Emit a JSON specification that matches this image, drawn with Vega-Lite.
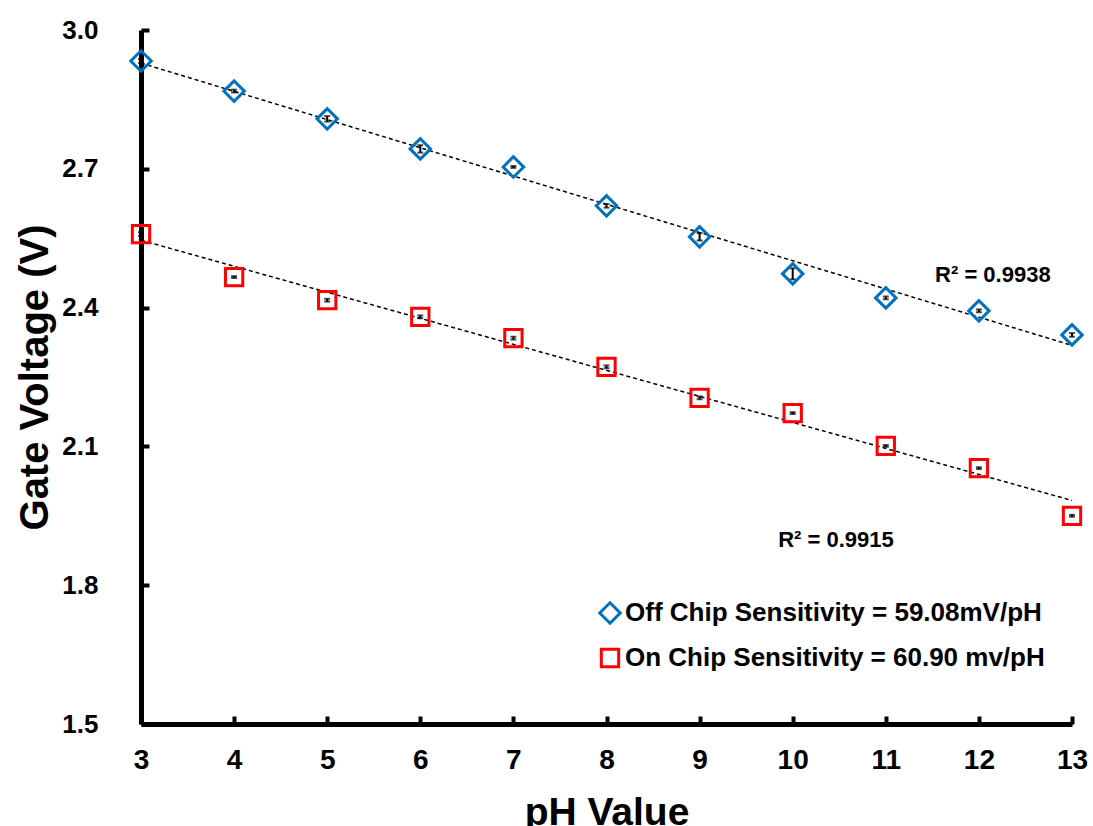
{
  "$schema": "https://vega.github.io/schema/vega-lite/v6.json",
  "autosize": {"type": "none"},
  "padding": {"left": 141, "top": 30, "right": 21, "bottom": 102},
  "width": 931,
  "height": 694,
  "config": {"view": {"stroke": null}, "font": "Liberation Sans"},
  "datasets": {
    "pts": [
      {"pH": 3, "v": 2.933, "err": 0.004, "series": "Off Chip Sensitivity = 59.08mV/pH"},
      {"pH": 4, "v": 2.868, "err": 0.003, "series": "Off Chip Sensitivity = 59.08mV/pH"},
      {"pH": 5, "v": 2.808, "err": 0.006, "series": "Off Chip Sensitivity = 59.08mV/pH"},
      {"pH": 6, "v": 2.743, "err": 0.008, "series": "Off Chip Sensitivity = 59.08mV/pH"},
      {"pH": 7, "v": 2.704, "err": 0.002, "series": "Off Chip Sensitivity = 59.08mV/pH"},
      {"pH": 8, "v": 2.620, "err": 0.004, "series": "Off Chip Sensitivity = 59.08mV/pH"},
      {"pH": 9, "v": 2.553, "err": 0.008, "series": "Off Chip Sensitivity = 59.08mV/pH"},
      {"pH": 10, "v": 2.473, "err": 0.012, "series": "Off Chip Sensitivity = 59.08mV/pH"},
      {"pH": 11, "v": 2.421, "err": 0.003, "series": "Off Chip Sensitivity = 59.08mV/pH"},
      {"pH": 12, "v": 2.393, "err": 0.003, "series": "Off Chip Sensitivity = 59.08mV/pH"},
      {"pH": 13, "v": 2.341, "err": 0.004, "series": "Off Chip Sensitivity = 59.08mV/pH"},
      {"pH": 3, "v": 2.559, "err": 0.004, "series": "On Chip Sensitivity = 60.90 mv/pH"},
      {"pH": 4, "v": 2.466, "err": 0.002, "series": "On Chip Sensitivity = 60.90 mv/pH"},
      {"pH": 5, "v": 2.416, "err": 0.003, "series": "On Chip Sensitivity = 60.90 mv/pH"},
      {"pH": 6, "v": 2.380, "err": 0.003, "series": "On Chip Sensitivity = 60.90 mv/pH"},
      {"pH": 7, "v": 2.334, "err": 0.003, "series": "On Chip Sensitivity = 60.90 mv/pH"},
      {"pH": 8, "v": 2.272, "err": 0.003, "series": "On Chip Sensitivity = 60.90 mv/pH"},
      {"pH": 9, "v": 2.205, "err": 0.003, "series": "On Chip Sensitivity = 60.90 mv/pH"},
      {"pH": 10, "v": 2.172, "err": 0.002, "series": "On Chip Sensitivity = 60.90 mv/pH"},
      {"pH": 11, "v": 2.101, "err": 0.002, "series": "On Chip Sensitivity = 60.90 mv/pH"},
      {"pH": 12, "v": 2.053, "err": 0.002, "series": "On Chip Sensitivity = 60.90 mv/pH"},
      {"pH": 13, "v": 1.950, "err": 0.002, "series": "On Chip Sensitivity = 60.90 mv/pH"}
    ],
    "notes": [
      {"pH": 12.15, "v": 2.470, "label": "R² = 0.9938"},
      {"pH": 10.465, "v": 1.897, "label": "R² = 0.9915"}
    ]
  },
  "encoding": {
    "x": {
      "field": "pH", "type": "quantitative",
      "scale": {"domain": [3, 13], "nice": false, "zero": false},
      "axis": {
        "title": "pH Value", "values": [3,4,5,6,7,8,9,10,11,12,13],
        "grid": false, "domainColor": "black", "domainWidth": 5,
        "tickColor": "black", "tickWidth": 4, "tickSize": -8,
        "labelFont": "Liberation Sans", "labelFontWeight": "bold", "labelFontSize": 28, "labelColor": "black",
        "labelPadding": 30, "labelFlush": false,
        "titleFont": "Liberation Sans", "titleFontWeight": "bold", "titleFontSize": 39, "titleColor": "black",
        "titlePadding": 19
      }
    },
    "y": {
      "field": "v", "type": "quantitative",
      "scale": {"domain": [1.5, 3.0], "nice": false, "zero": false},
      "axis": {
        "title": "Gate Voltage (V)", "values": [1.5,1.8,2.1,2.4,2.7,3.0], "format": ".1f",
        "grid": false, "domainColor": "black", "domainWidth": 5,
        "tickColor": "black", "tickWidth": 4, "tickSize": -8,
        "labelFont": "Liberation Sans", "labelFontWeight": "bold", "labelFontSize": 26, "labelColor": "black",
        "labelPadding": 51, "labelFlush": false,
        "titleFont": "Liberation Sans", "titleFontWeight": "bold", "titleFontSize": 40, "titleColor": "black",
        "titlePadding": 6
      }
    }
  },
  "layer": [
    {
      "data": {"name": "pts"},
      "transform": [
        {"regression": "v", "on": "pH", "groupby": ["series"], "extent": [3, 13]}
      ],
      "mark": {"type": "line", "color": "black", "strokeWidth": 1.5, "strokeDash": [4, 3]},
      "encoding": {"detail": {"field": "series"}}
    },
    {
      "data": {"name": "pts"},
      "mark": {"type": "errorbar", "color": "black", "ticks": {"size": 6, "color": "black"}, "thickness": 2},
      "encoding": {
        "yError": {"field": "err"}
      }
    },
    {
      "data": {"name": "pts"},
      "mark": {"type": "point", "filled": false, "strokeWidth": 3, "opacity": 1},
      "encoding": {
        "shape": {
          "field": "series", "type": "nominal",
          "scale": {"domain": ["Off Chip Sensitivity = 59.08mV/pH", "On Chip Sensitivity = 60.90 mv/pH"], "range": ["diamond", "square"]},
          "legend": {
            "title": null, "orient": "none", "legendX": 456, "legendY": 570, "padding": 0,
            "labelFont": "Liberation Sans", "labelFontWeight": "bold", "labelFontSize": 26, "labelColor": "black",
            "labelLimit": 700, "rowPadding": 13, "symbolSize": 200, "symbolStrokeWidth": 3, "labelOffset": 2
          }
        },
        "color": {
          "field": "series", "type": "nominal",
          "scale": {"domain": ["Off Chip Sensitivity = 59.08mV/pH", "On Chip Sensitivity = 60.90 mv/pH"], "range": ["#0070C0", "#FF0000"]},
          "legend": {
            "title": null, "orient": "none", "legendX": 456, "legendY": 570, "padding": 0,
            "labelFont": "Liberation Sans", "labelFontWeight": "bold", "labelFontSize": 26, "labelColor": "black",
            "labelLimit": 700, "rowPadding": 13, "symbolSize": 200, "symbolStrokeWidth": 3, "labelOffset": 2
          }
        },
        "size": {
          "field": "series", "type": "nominal",
          "scale": {"domain": ["Off Chip Sensitivity = 59.08mV/pH", "On Chip Sensitivity = 60.90 mv/pH"], "range": [420, 300]},
          "legend": null
        }
      }
    },
    {
      "data": {"name": "notes"},
      "mark": {"type": "text", "font": "Liberation Sans", "fontWeight": "bold", "fontSize": 22, "color": "black"},
      "encoding": {"text": {"field": "label"}}
    }
  ]
}
